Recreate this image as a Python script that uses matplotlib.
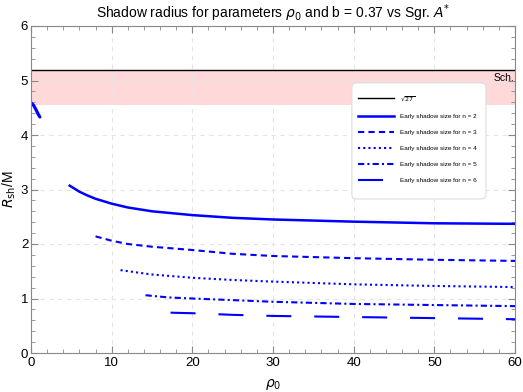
import numpy as np
import matplotlib.pyplot as plt
from matplotlib.patches import FancyBboxPatch
from matplotlib.ticker import MultipleLocator

plt.rcParams['font.family'] = ['Liberation Sans', 'DejaVu Sans']
plt.rcParams['mathtext.fontset'] = 'dejavusans'

# Values
sch_radius = np.sqrt(27)
band_low = 4.55

rho_small = [0.0, 0.3, 0.6, 0.9, 1.1]
r_small = [4.59, 4.55, 4.47, 4.38, 4.33]

rho_n2 = [4.8, 6, 7, 8, 10, 12, 15, 20, 25, 30, 40, 50, 60]
r_n2 = [3.07, 2.96, 2.89, 2.83, 2.74, 2.67, 2.60, 2.53, 2.48, 2.45, 2.41, 2.38, 2.37]

rho_n3 = [8.0, 10, 12, 15, 20, 25, 30, 40, 50, 60]
r_n3 = [2.14, 2.06, 2.00, 1.95, 1.89, 1.82, 1.78, 1.74, 1.71, 1.69]

rho_n4 = [11.1, 15, 20, 25, 30, 40, 50, 60]
r_n4 = [1.52, 1.44, 1.38, 1.34, 1.31, 1.26, 1.23, 1.21]

rho_n5 = [14.2, 17, 20, 25, 30, 40, 50, 60]
r_n5 = [1.06, 1.02, 1.00, 0.97, 0.94, 0.90, 0.88, 0.86]

rho_n6 = [17.3, 20, 25, 30, 40, 50, 60]
r_n6 = [0.74, 0.73, 0.70, 0.68, 0.66, 0.64, 0.62]

fig = plt.figure(figsize=(5.23, 3.92), dpi=100)
ax = fig.add_axes([31/523, 1 - 353/392, 484/523, 327/392])

# shaded band + Schwarzschild line
ax.axhspan(band_low, sch_radius, color='#ffd9d9', lw=0, zorder=0)
ax.axhline(sch_radius, color='black', lw=1.0, label=r'$\sqrt{27}$', zorder=2)
ax.text(59.9, 5.04, 'Sch.', ha='right', va='center', fontsize=7.5)

blue = '#0000ff'
ax.plot(rho_small, r_small, color=blue, lw=2.3, solid_capstyle='round')
ax.plot(rho_n2, r_n2, color=blue, lw=1.8, label='Early shadow size for n = 2')
ax.plot(rho_n3, r_n3, color=blue, lw=1.5, ls=(0, (3, 2)), label='Early shadow size for n = 3')
ax.plot(rho_n4, r_n4, color=blue, lw=1.5, ls=(0, (1, 1.5)), label='Early shadow size for n = 4')
ax.plot(rho_n5, r_n5, color=blue, lw=1.5, ls=(0, (3, 1.5, 1, 1.5)), label='Early shadow size for n = 5')
ax.plot(rho_n6, r_n6, color=blue, lw=1.5, ls=(0, (12, 11)), label='Early shadow size for n = 6')

ax.set_xlim(0, 60)
ax.set_ylim(0, 6)
ax.xaxis.set_major_locator(MultipleLocator(10))
ax.xaxis.set_minor_locator(MultipleLocator(2))
ax.yaxis.set_major_locator(MultipleLocator(1))
ax.yaxis.set_minor_locator(MultipleLocator(0.2))
ax.tick_params(which='both', direction='in', top=True, right=True, color='#888888', labelsize=9.5)
ax.tick_params(which='major', length=5, width=0.8)
ax.tick_params(which='minor', length=3, width=0.6)
ax.tick_params(axis='x', pad=3)
ax.tick_params(axis='y', pad=2)
for sp in ax.spines.values():
    sp.set_color('#888888')
    sp.set_linewidth(0.8)

ax.grid(True, which='major', ls=(0, (4, 4)), color='#e4e4e4', lw=0.8)
ax.set_axisbelow(True)

ax.set_title(r'Shadow radius for parameters $\rho_0$ and b = 0.37 vs Sgr. $A^{*}$', fontsize=10, pad=6)
ax.set_xlabel(r'$\rho_0$', fontsize=10, labelpad=6)
ax.set_ylabel(r'$R_{\rm sh}$/M', fontsize=10, labelpad=2)

# legend frame drawn by hand (rounded, light gray), entries without frame
frame = FancyBboxPatch((0.663, 0.471), 0.277, 0.355, boxstyle='round,pad=0,rounding_size=0.012',
                       transform=ax.transAxes, facecolor='white', edgecolor='#dddddd',
                       lw=0.8, zorder=4)
ax.add_patch(frame)
leg = ax.legend(loc='upper left', bbox_to_anchor=(0.676, 0.792), fontsize=4.6,
                handlelength=5.6, handletextpad=0.9, labelspacing=1.65,
                borderpad=0, borderaxespad=0, frameon=False)
leg.set_zorder(5)

fig.savefig('out.png', dpi=100)
